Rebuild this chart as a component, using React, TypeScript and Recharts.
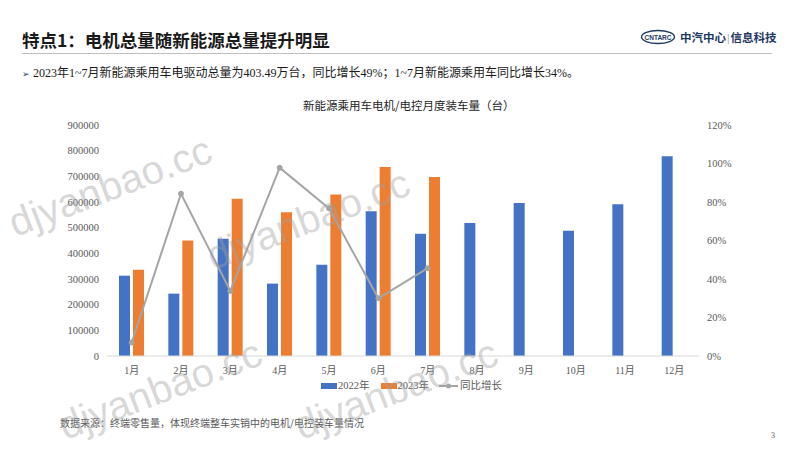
import {
  ComposedChart,
  Bar,
  Line,
  XAxis,
  YAxis,
  Legend,
} from 'recharts';

const months = ['1月', '2月', '3月', '4月', '5月', '6月', '7月', '8月', '9月', '10月', '11月', '12月'];
const sales2022 = [313000, 243000, 457000, 282000, 356000, 564000, 476000, 518000, 596000, 488000, 591000, 778000];
const sales2023 = [336000, 450000, 613000, 560000, 629000, 736000, 697000, null, null, null, null, null];
const growth = [0.07, 0.843, 0.338, 0.978, 0.767, 0.3, 0.456, null, null, null, null, null];

const leftTicks = [0, 100000, 200000, 300000, 400000, 500000, 600000, 700000, 800000, 900000];
const rightTicks = [0, 0.2, 0.4, 0.6, 0.8, 1.0, 1.2];

const BLUE = '#4472c4';
const ORANGE = '#ed7d31';
const GREY = '#a5a5a5';
const TICK = '#595959';
const SERIF = "'Liberation Serif', 'Noto Sans CJK SC', serif";
const SANS = "'Noto Sans CJK SC', 'Liberation Sans', sans-serif";

// watermark centres (page px), kept inside the page
const watermarks = [
  { x: 110, y: 186 },
  { x: 308, y: 219 },
  { x: 160, y: 389 },
  { x: 396, y: 389 },
];

const data = months.map((m, i) => ({
  month: m,
  y2022: sales2022[i],
  y2023: sales2023[i],
  growth: growth[i],
}));

function LegendContent() {
  const label = { fontFamily: SERIF, fontSize: 10.5, color: TICK, lineHeight: '12px' };
  return (
    <div style={{ display: 'flex', alignItems: 'center', whiteSpace: 'nowrap' }}>
      <span style={{ width: 16, height: 6, background: BLUE, marginRight: 1 }} />
      <span style={label}>2022年</span>
      <span style={{ width: 16, height: 6, background: ORANGE, marginLeft: 11, marginRight: 1 }} />
      <span style={label}>2023年</span>
      <svg width={19} height={8} style={{ marginLeft: 10, marginRight: 2 }}>
        <line x1={0} y1={4} x2={19} y2={4} stroke={GREY} strokeWidth={2} />
        <circle cx={9.5} cy={4} r={2.5} fill={GREY} />
      </svg>
      <span style={label}>同比增长</span>
    </div>
  );
}

export default function App() {
  return (
    <div
      style={{
        position: 'absolute',
        left: 0,
        top: 0,
        width: 800,
        height: 450,
        background: '#fff',
        overflow: 'hidden',
        fontFamily: SANS,
      }}
    >
      {/* header */}
      <div
        style={{
          position: 'absolute',
          left: 22,
          top: 28,
          fontSize: 17.5,
          fontWeight: 700,
          color: '#1a1a1a',
          lineHeight: '24px',
          whiteSpace: 'nowrap',
        }}
      >
        特点1：电机总量随新能源总量提升明显
      </div>
      <svg width={36} height={16} style={{ position: 'absolute', left: 640, top: 29 }}>
        <ellipse cx={18} cy={8} rx={16.5} ry={6.5} fill="none" stroke="#1f3864" strokeWidth={1.3} />
        <text x={18} y={10.5} textAnchor="middle" fontSize={6.5} fontFamily="'Liberation Sans'" fontWeight={700} fill="#1f3864">
          CNTARC
        </text>
      </svg>
      <div
        style={{
          position: 'absolute',
          left: 680,
          top: 28,
          fontSize: 11.5,
          fontWeight: 700,
          color: '#1f3864',
          lineHeight: '18px',
          whiteSpace: 'nowrap',
        }}
      >
        中汽中心<span style={{ fontWeight: 400, fontSize: 9, color: '#7f7f7f', margin: '0 1px' }}>|</span>信息科技
      </div>
      <div style={{ position: 'absolute', left: 22, top: 53, width: 750, height: 1, background: '#bfbfbf' }} />
      <div
        style={{
          position: 'absolute',
          left: 22,
          top: 65,
          fontSize: 12,
          color: '#1a1a1a',
          lineHeight: '16px',
          whiteSpace: 'nowrap',
          fontFamily: SERIF,
        }}
      >
        <span style={{ fontSize: 9, color: '#1f3864', marginRight: 3 }}>➢</span>
        2023年1~7月新能源乘用车电驱动总量为403.49万台，同比增长49%；1~7月新能源乘用车同比增长34%。
      </div>

      {/* chart title */}
      <div
        style={{
          position: 'absolute',
          left: 303,
          top: 97,
          fontSize: 11.5,
          color: '#262626',
          lineHeight: '16px',
          whiteSpace: 'nowrap',
        }}
      >
        新能源乘用车电机/电控月度装车量（台）
      </div>

      <div style={{ position: 'absolute', left: 0, top: 0 }}>
        <ComposedChart
          width={800}
          height={450}
          data={data}
          margin={{ top: 125, right: 51, bottom: 64, left: 47 }}
          barGap={3}
          style={{ fontFamily: SERIF }}
        >
          <XAxis
            dataKey="month"
            height={30}
            interval={0}
            tickLine={false}
            tickMargin={5}
            axisLine={{ stroke: '#d9d9d9' }}
            tick={{ fill: TICK, fontSize: 10, fontFamily: SERIF }}
          />
          <YAxis
            yAxisId="l"
            width={60}
            domain={[0, 900000]}
            ticks={leftTicks}
            interval={0}
            axisLine={false}
            tickLine={false}
            tick={{ fill: TICK, fontSize: 10.5, fontFamily: SERIF }}
          />
          <YAxis
            yAxisId="r"
            orientation="right"
            width={50}
            domain={[0, 1.2]}
            ticks={rightTicks}
            interval={0}
            axisLine={false}
            tickLine={false}
            tickFormatter={(v: number) => `${Math.round(v * 100)}%`}
            tick={{ fill: TICK, fontSize: 10.5, fontFamily: SERIF }}
          />
          <Legend
            layout="horizontal"
            verticalAlign="middle"
            align="center"
            content={<LegendContent />}
            wrapperStyle={{ top: 380, left: 321, width: 'auto' }}
          />
          <Bar yAxisId="l" dataKey="y2022" name="2022年" fill={BLUE} barSize={11} isAnimationActive={false} />
          <Bar yAxisId="l" dataKey="y2023" name="2023年" fill={ORANGE} barSize={11} isAnimationActive={false} />
          <Line
            yAxisId="r"
            dataKey="growth"
            name="同比增长"
            type="linear"
            stroke={GREY}
            strokeWidth={2}
            dot={{ r: 2.5, fill: GREY, stroke: GREY, strokeWidth: 1 }}
            activeDot={false}
            isAnimationActive={false}
          />
        </ComposedChart>
      </div>

      {/* footnote */}
      <div
        style={{
          position: 'absolute',
          left: 60,
          top: 416,
          fontSize: 10,
          color: TICK,
          lineHeight: '14px',
          whiteSpace: 'nowrap',
        }}
      >
        数据来源：终端零售量，体现终端整车实销中的电机/电控装车量情况
      </div>
      <div
        style={{
          position: 'absolute',
          left: 771,
          top: 431,
          fontSize: 8,
          color: TICK,
          fontFamily: SERIF,
        }}
      >
        3
      </div>

      {/* watermarks */}
      {watermarks.map((w, i) => (
        <div
          key={i}
          style={{
            position: 'absolute',
            left: w.x,
            top: w.y,
            transform: 'translate(-50%, -50%) rotate(-21deg)',
            fontFamily: "'Liberation Sans', Arial, sans-serif",
            fontSize: 40,
            lineHeight: '40px',
            color: 'rgba(160,160,160,0.42)',
            whiteSpace: 'nowrap',
            pointerEvents: 'none',
          }}
        >
          djyanbao.cc
        </div>
      ))}
    </div>
  );
}
